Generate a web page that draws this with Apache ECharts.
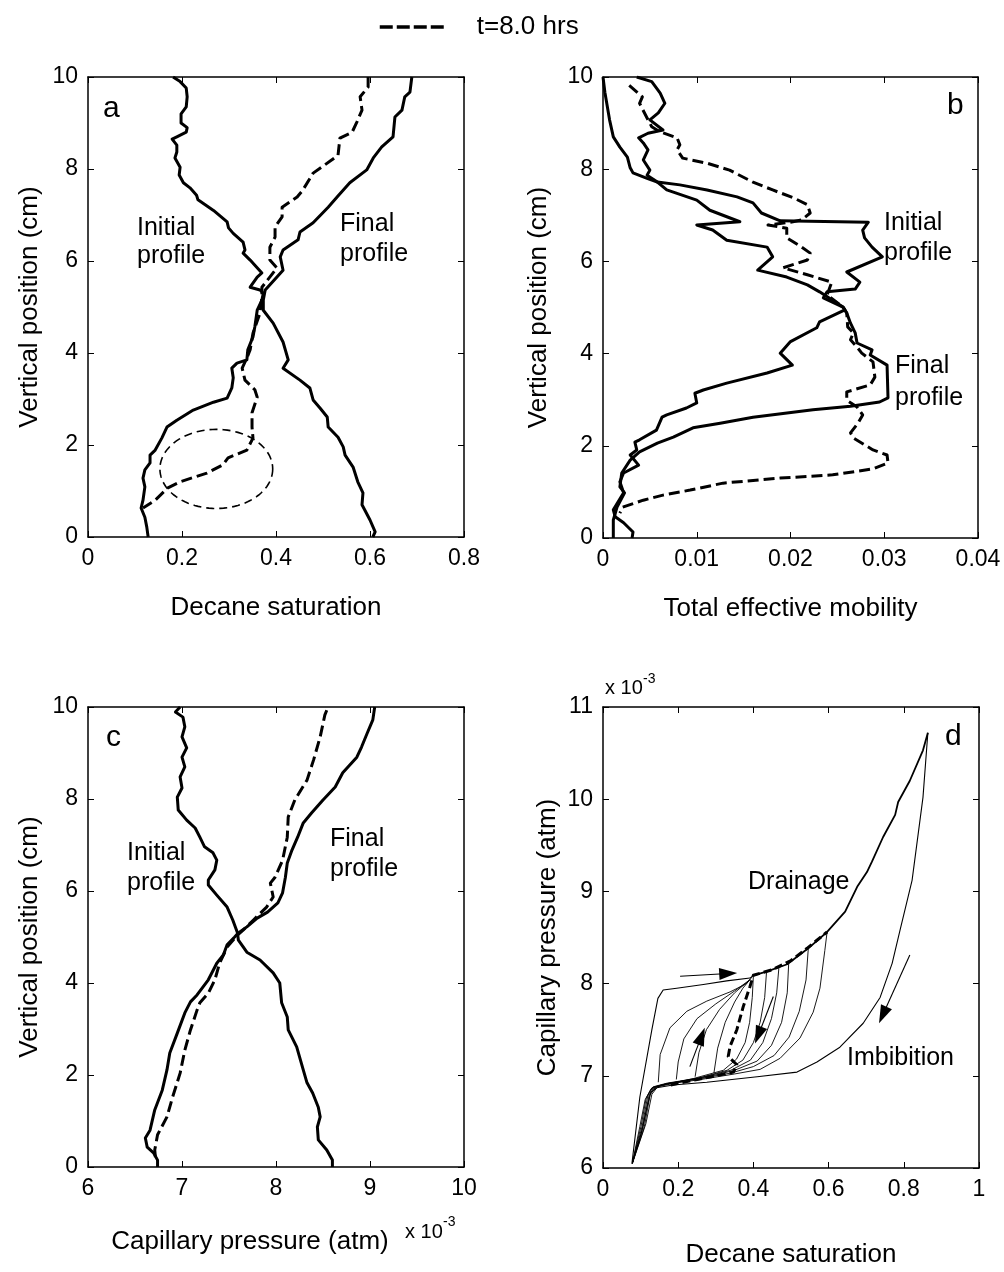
<!DOCTYPE html>
<html>
<head>
<meta charset="utf-8">
<title>Decane saturation, mobility and capillary pressure profiles</title>
<script src="https://cdn.jsdelivr.net/npm/echarts@6/dist/echarts.min.js"></script>
<style>
  html, body { margin: 0; padding: 0; background: #fff; }
  #chart { width: 1004px; height: 1272px; }
</style>
</head>
<body>
<div id="chart"></div>
<script>
// ---------- (a) decane saturation vs. vertical position ----------
const aInitial = [[0.181,10],[0.196,9.9],[0.209,9.76],[0.211,9.57],[0.209,9.35],[0.198,9.2],[0.198,9.0],[0.211,8.9],[0.209,8.8],[0.189,8.7],[0.179,8.65],[0.189,8.52],[0.189,8.37],[0.185,8.24],[0.196,8.04],[0.194,7.87],[0.203,7.7],[0.217,7.59],[0.231,7.43],[0.234,7.33],[0.267,7.1],[0.296,6.85],[0.299,6.72],[0.309,6.6],[0.330,6.41],[0.334,6.24],[0.330,6.17],[0.345,6.02],[0.370,5.74],[0.360,5.65],[0.345,5.43],[0.366,5.37],[0.373,5.3],[0.370,5.15],[0.360,4.93],[0.355,4.57],[0.351,4.35],[0.340,4.07],[0.338,3.85],[0.317,3.78],[0.306,3.67],[0.309,3.46],[0.306,3.24],[0.296,3.02],[0.267,2.93],[0.224,2.76],[0.189,2.54],[0.168,2.39],[0.157,2.15],[0.143,1.89],[0.132,1.78],[0.132,1.61],[0.121,1.46],[0.117,1.28],[0.121,1.09],[0.117,0.8],[0.113,0.63],[0.121,0.43],[0.125,0.22],[0.128,0]];
const aFinal = [[0.689,10],[0.685,9.67],[0.674,9.57],[0.668,9.28],[0.653,9.13],[0.649,8.7],[0.625,8.48],[0.607,8.24],[0.593,7.98],[0.557,7.7],[0.530,7.39],[0.511,7.17],[0.479,6.83],[0.451,6.63],[0.447,6.46],[0.415,6.24],[0.409,6.09],[0.415,5.8],[0.402,5.65],[0.377,5.37],[0.373,5.15],[0.373,4.93],[0.394,4.65],[0.415,4.24],[0.426,3.85],[0.415,3.67],[0.451,3.41],[0.472,3.24],[0.479,2.98],[0.494,2.8],[0.509,2.61],[0.511,2.39],[0.532,2.17],[0.543,1.96],[0.547,1.78],[0.564,1.52],[0.574,1.2],[0.585,0.96],[0.583,0.7],[0.600,0.37],[0.611,0.11],[0.606,0]];
const aAt8h = [[0.596,10],[0.596,9.78],[0.579,9.57],[0.583,9.28],[0.572,9.02],[0.562,8.8],[0.536,8.67],[0.532,8.3],[0.519,8.2],[0.479,7.91],[0.457,7.54],[0.445,7.39],[0.413,7.17],[0.413,6.96],[0.398,6.74],[0.398,6.52],[0.387,6.3],[0.387,6.02],[0.402,5.85],[0.370,5.43],[0.370,5.22],[0.366,4.87],[0.351,4.43],[0.345,4.07],[0.338,3.89],[0.328,3.67],[0.334,3.41],[0.355,3.2],[0.360,3.04],[0.349,2.7],[0.349,2.39],[0.351,2.15],[0.338,1.89],[0.298,1.72],[0.287,1.57],[0.253,1.39],[0.196,1.2],[0.170,1.07],[0.143,0.8],[0.117,0.63]];
// highlighted region: [centre saturation, centre position, half-width, half-height]
const aEllipse = [[0.273,1.48,0.120,0.86]];

// ---------- (b) total effective mobility vs. vertical position ----------
const bInitial = [[0.0000,10],[0.0002,9.67],[0.0007,9.07],[0.0011,8.7],[0.0018,8.48],[0.0026,8.26],[0.0029,8.03],[0.0032,7.92],[0.0047,7.8],[0.0058,7.72],[0.0082,7.66],[0.0111,7.55],[0.0143,7.40],[0.0160,7.27],[0.0169,7.05],[0.0189,6.88],[0.0283,6.85],[0.0277,6.68],[0.0279,6.51],[0.0287,6.31],[0.0298,6.1],[0.0260,5.77],[0.0274,5.55],[0.0269,5.4],[0.0239,5.34],[0.0235,5.21],[0.0256,5.01],[0.0260,4.88],[0.0264,4.66],[0.0269,4.45],[0.0271,4.23],[0.0287,4.08],[0.0285,3.97],[0.0303,3.75],[0.0304,3.04],[0.0295,2.95],[0.0264,2.86],[0.0224,2.78],[0.0160,2.62],[0.0125,2.49],[0.0096,2.39],[0.0075,2.19],[0.0058,2.06],[0.0039,1.87],[0.0029,1.69],[0.0020,1.41],[0.0018,1.11],[0.0023,0.98],[0.0015,0.67],[0.0011,0.39],[0.0011,0]];
const bFinal = [[0.0036,10],[0.0052,9.9],[0.0061,9.65],[0.0066,9.43],[0.0059,9.22],[0.0050,9.07],[0.0064,8.85],[0.0048,8.78],[0.0038,8.68],[0.0043,8.57],[0.0048,8.42],[0.0043,8.2],[0.0050,7.98],[0.0047,7.87],[0.0058,7.72],[0.0068,7.55],[0.0100,7.33],[0.0114,7.11],[0.0146,6.86],[0.0100,6.79],[0.0117,6.68],[0.0132,6.46],[0.0175,6.31],[0.0181,6.1],[0.0165,5.81],[0.0196,5.66],[0.0218,5.49],[0.0231,5.34],[0.0256,5.01],[0.0258,4.95],[0.0231,4.69],[0.0228,4.56],[0.0200,4.26],[0.0189,4.01],[0.0202,3.75],[0.0175,3.58],[0.0132,3.36],[0.0107,3.21],[0.0098,3.14],[0.0100,2.93],[0.0089,2.82],[0.0068,2.67],[0.0063,2.62],[0.0057,2.34],[0.0039,2.13],[0.0034,2.08],[0.0036,1.91],[0.0029,1.8],[0.0038,1.58],[0.0022,1.41],[0.0018,1.22],[0.0022,0.98],[0.0016,0.78],[0.0011,0.61],[0.0013,0.46],[0.0022,0.33],[0.0032,0.13],[0.0031,0]];
const bAt8h = [[0.0028,9.82],[0.0042,9.57],[0.0039,9.43],[0.0047,9.11],[0.0052,8.92],[0.0061,8.81],[0.0079,8.68],[0.0082,8.53],[0.0079,8.42],[0.0085,8.24],[0.0111,8.13],[0.0135,7.98],[0.0160,7.72],[0.0181,7.55],[0.0203,7.38],[0.0218,7.23],[0.0221,7.05],[0.0212,6.9],[0.0200,6.85],[0.0176,6.79],[0.0196,6.72],[0.0196,6.51],[0.0212,6.31],[0.0221,6.18],[0.0218,6.03],[0.0192,5.86],[0.0218,5.71],[0.0244,5.55],[0.0239,5.27],[0.0256,5.01],[0.0260,4.88],[0.0261,4.58],[0.0267,4.45],[0.0264,4.3],[0.0271,4.14],[0.0276,4.01],[0.0288,3.82],[0.0290,3.49],[0.0285,3.32],[0.0260,3.17],[0.0260,2.99],[0.0271,2.84],[0.0277,2.67],[0.0272,2.49],[0.0264,2.28],[0.0267,2.17],[0.0288,1.91],[0.0303,1.8],[0.0304,1.63],[0.0288,1.5],[0.0245,1.37],[0.0189,1.3],[0.0128,1.19],[0.0093,1.04],[0.0064,0.93],[0.0043,0.82],[0.0021,0.67],[0.0018,0.54]];

// ---------- (c) capillary pressure (x 10^-3 atm) vs. vertical position ----------
const cInitial = [[6.98,10],[6.93,9.89],[7.01,9.78],[7.03,9.57],[7.0,9.35],[7.05,9.11],[7.0,8.91],[7.03,8.7],[6.98,8.48],[7.0,8.24],[6.95,8.04],[6.96,7.76],[7.05,7.54],[7.14,7.37],[7.19,7.17],[7.24,6.96],[7.33,6.83],[7.37,6.67],[7.35,6.46],[7.28,6.24],[7.28,6.13],[7.37,5.91],[7.48,5.65],[7.54,5.37],[7.59,5.09],[7.6,4.93],[7.69,4.67],[7.83,4.5],[7.97,4.22],[8.04,4.0],[8.06,3.57],[8.12,3.26],[8.13,2.98],[8.22,2.61],[8.29,2.11],[8.33,1.83],[8.39,1.61],[8.45,1.3],[8.47,1.09],[8.44,0.87],[8.45,0.59],[8.54,0.37],[8.6,0.15],[8.6,0]];
const cFinal = [[9.05,10],[9.03,9.72],[8.97,9.43],[8.91,9.13],[8.86,8.91],[8.71,8.57],[8.63,8.26],[8.5,7.98],[8.38,7.7],[8.29,7.48],[8.23,7.17],[8.17,6.89],[8.12,6.61],[8.1,6.3],[8.07,5.96],[8.02,5.74],[7.91,5.54],[7.8,5.41],[7.69,5.22],[7.6,5.09],[7.56,5.0],[7.48,4.83],[7.44,4.61],[7.37,4.43],[7.28,4.07],[7.16,3.74],[7.09,3.59],[7.03,3.35],[6.95,2.91],[6.87,2.48],[6.84,2.11],[6.79,1.67],[6.71,1.24],[6.66,0.8],[6.61,0.63],[6.63,0.43],[6.7,0.3],[6.74,0.15],[6.74,0]];
const cAt8h = [[8.54,9.93],[8.52,9.83],[8.47,9.35],[8.4,8.85],[8.33,8.41],[8.2,7.98],[8.13,7.61],[8.12,7.17],[8.07,6.67],[7.99,6.3],[7.94,6.17],[7.97,5.87],[7.9,5.65],[7.76,5.37],[7.65,5.15],[7.59,5.04],[7.48,4.78],[7.4,4.43],[7.35,4.07],[7.28,3.78],[7.19,3.57],[7.16,3.41],[7.09,2.98],[7.03,2.54],[6.98,2.04],[6.9,1.52],[6.84,1.09],[6.74,0.7],[6.71,0.37],[6.72,0.15]];

// ---------- (d) capillary pressure (x 10^-3 atm) vs. decane saturation ----------
const dPrimary = [[0.077,6.05],[0.098,6.77],[0.130,7.50],[0.146,7.84],[0.160,7.93],[0.196,7.95],[0.267,7.99],[0.329,8.03],[0.391,8.06],[0.400,8.09]];
const dDrainage = [[0.400,8.09],[0.435,8.13],[0.490,8.21],[0.545,8.38],[0.596,8.56],[0.644,8.78],[0.676,9.05],[0.702,9.21],[0.715,9.32],[0.745,9.59],[0.777,9.83],[0.785,9.97],[0.816,10.20],[0.851,10.53],[0.864,10.72]];
const dImbibition = [[0.864,10.72],[0.851,10.02],[0.822,9.12],[0.790,8.58],[0.769,8.22],[0.737,7.85],[0.692,7.57],[0.630,7.31],[0.569,7.15],[0.516,7.04],[0.410,6.99],[0.276,6.93],[0.186,6.90],[0.143,6.87],[0.127,6.82],[0.117,6.66],[0.102,6.38],[0.078,6.05]];
const dScan1 = [[0.400,8.09],[0.397,7.85],[0.390,7.58],[0.378,7.36],[0.355,7.18],[0.320,7.06],[0.240,6.97],[0.160,6.90],[0.128,6.86],[0.112,6.74],[0.098,6.45],[0.078,6.05]];
const dScan2 = [[0.435,8.13],[0.430,7.85],[0.418,7.58],[0.400,7.36],[0.372,7.17],[0.330,7.06],[0.250,6.97],[0.165,6.91],[0.130,6.87],[0.115,6.76],[0.101,6.45],[0.078,6.05]];
const dScan3 = [[0.468,8.18],[0.462,7.90],[0.448,7.62],[0.425,7.36],[0.392,7.17],[0.340,7.06],[0.260,6.98],[0.170,6.92],[0.133,6.88],[0.119,6.78],[0.104,6.45],[0.078,6.05]];
const dScan4 = [[0.494,8.23],[0.490,7.90],[0.475,7.58],[0.448,7.33],[0.410,7.16],[0.350,7.06],[0.270,6.98],[0.175,6.92],[0.136,6.88],[0.122,6.78],[0.107,6.45],[0.078,6.05]];
const dScan5 = [[0.546,8.38],[0.540,8.04],[0.522,7.70],[0.495,7.42],[0.455,7.22],[0.400,7.10],[0.340,7.03],[0.260,6.97],[0.180,6.92],[0.140,6.88],[0.125,6.79],[0.110,6.45],[0.078,6.05]];
const dScan6 = [[0.596,8.56],[0.590,8.36],[0.577,7.95],[0.559,7.69],[0.524,7.41],[0.471,7.19],[0.418,7.07],[0.350,7.02],[0.260,6.96],[0.190,6.92],[0.145,6.88],[0.130,6.80],[0.114,6.48],[0.078,6.05]];
const dRise1 = [[0.147,6.93],[0.152,7.23],[0.178,7.52],[0.223,7.70],[0.276,7.81],[0.338,7.91],[0.382,8.00],[0.398,8.08]];
const dRise2 = [[0.195,6.96],[0.200,7.15],[0.215,7.40],[0.250,7.62],[0.300,7.78],[0.350,7.92],[0.390,8.04]];
const dRise3 = [[0.245,6.99],[0.255,7.25],[0.275,7.50],[0.310,7.72],[0.350,7.90],[0.390,8.04]];
const dRise4 = [[0.295,7.03],[0.305,7.30],[0.325,7.58],[0.350,7.80],[0.372,7.95],[0.392,8.05]];
const dAt8h = [[0.180,6.90],[0.250,6.96],[0.300,7.00],[0.347,7.04],[0.356,7.12],[0.333,7.21],[0.338,7.32],[0.356,7.50],[0.373,7.75],[0.391,7.97],[0.400,8.09],[0.450,8.15],[0.500,8.25],[0.545,8.39],[0.596,8.56]];
// direction arrows: [tail, head]
const dArrows = [
  [[0.205,8.08],[0.333,8.11]],
  [[0.231,7.10],[0.262,7.43]],
  [[0.453,7.86],[0.413,7.44]],
  [[0.816,8.31],[0.744,7.66]]
];

// ---------- axis ticks ----------
const ticksA = { x: [0, 0.8, 0.2], y: [0, 10, 2] };
const ticksB = { x: [0, 0.04, 0.01], y: [0, 10, 2] };
const ticksC = { x: [6, 10, 1], y: [0, 10, 2] };
const ticksD = { x: [0, 1, 0.2], y: [6, 11, 1] };

const LEGEND_NAME = 't=8.0 hrs';
const FONT = '"Liberation Sans", Arial, Helvetica, sans-serif';
const BLACK = '#000';

const grids = [
  { left: 88,  top: 77,  width: 376, height: 460 },
  { left: 603, top: 77,  width: 375, height: 461 },
  { left: 88,  top: 707, width: 376, height: 460 },
  { left: 603, top: 707, width: 376, height: 461 }
];

function axisBase(gridIndex, position, t, showLabels) {
  return {
    type: 'value', gridIndex, position,
    min: t[0], max: t[1], interval: t[2],
    axisLine: { show: true, onZero: false, lineStyle: { color: BLACK, width: 1.5 } },
    axisTick: { show: true, inside: true, length: 6, lineStyle: { color: BLACK, width: 1 } },
    axisLabel: { show: showLabels, color: BLACK, fontSize: 23, fontFamily: FONT, margin: 10 },
    splitLine: { show: false }
  };
}
function named(ax, name, gap, pad) {
  ax.name = name;
  ax.nameLocation = 'middle';
  ax.nameGap = gap;
  ax.nameTextStyle = { color: BLACK, fontSize: 26, fontFamily: FONT, padding: pad || 0 };
  return ax;
}

const xAxes = [], yAxes = [];
[ticksA, ticksB, ticksC, ticksD].forEach((t, i) => {
  xAxes.push(axisBase(i, 'bottom', t.x, true));
  xAxes.push(axisBase(i, 'top', t.x, false));
  yAxes.push(axisBase(i, 'left', t.y, true));
  yAxes.push(axisBase(i, 'right', t.y, false));
});
named(xAxes[0], 'Decane saturation', 58);
named(xAxes[2], 'Total effective mobility', 58);
named(xAxes[4], 'Capillary pressure (atm)', 62, [0, 52, 0, 0]);
named(xAxes[6], 'Decane saturation', 74);
named(yAxes[0], 'Vertical position (cm)', 45);
named(yAxes[2], 'Vertical position (cm)', 51);
named(yAxes[4], 'Vertical position (cm)', 45);
named(yAxes[6], 'Capillary pressure (atm)', 42);

function line(panel, data, opts) {
  opts = opts || {};
  return {
    type: 'line', name: opts.name, xAxisIndex: panel * 2, yAxisIndex: panel * 2,
    data, symbol: 'none', silent: true, animation: false, z: opts.z || 2,
    itemStyle: { color: BLACK },
    lineStyle: { color: BLACK, width: opts.width || 3, type: opts.dash || 'solid', cap: 'butt', join: 'round' }
  };
}
const DASH = [11, 5];

const series = [
  line(0, aInitial), line(0, aFinal), line(0, aAt8h, { name: LEGEND_NAME, dash: DASH }),
  {
    type: 'custom', xAxisIndex: 0, yAxisIndex: 0, silent: true, data: aEllipse,
    renderItem(params, api) {
      const c = api.coord([api.value(0), api.value(1)]);
      const s = api.size([api.value(2), api.value(3)]);
      const pts = [];
      for (let k = 0; k < 96; k++) {
        const t = 2 * Math.PI * k / 96;
        pts.push([c[0] + s[0] * Math.cos(t), c[1] + s[1] * Math.sin(t)]);
      }
      return { type: 'polygon', shape: { points: pts },
        style: { fill: 'none', stroke: BLACK, lineWidth: 1.6, lineDash: [8, 5] } };
    }
  },
  line(1, bInitial), line(1, bFinal), line(1, bAt8h, { name: LEGEND_NAME, dash: DASH }),
  line(2, cInitial), line(2, cFinal), line(2, cAt8h, { name: LEGEND_NAME, dash: DASH }),
  line(3, dPrimary, { width: 1.1 }),
  line(3, dDrainage, { width: 1.8 }),
  line(3, dImbibition, { width: 1.1 }),
  ...[dScan1, dScan2, dScan3, dScan4, dScan5, dScan6, dRise1, dRise2, dRise3, dRise4]
      .map(d => line(3, d, { width: 0.9 })),
  line(3, dAt8h, { name: LEGEND_NAME, dash: [8, 4], width: 3, z: 3 }),
  {
    type: 'line', xAxisIndex: 6, yAxisIndex: 6, data: [], silent: true,
    markLine: {
      silent: true, animation: false, symbolSize: [12, 18], precision: 4,
      label: { show: false },
      lineStyle: { color: BLACK, width: 1.1, type: 'solid' },
      data: dArrows.map(a => [
        { coord: a[0], symbol: 'none' },
        { coord: a[1], symbol: 'triangle' }
      ])
    }
  }
];

function label(text, x, y, size, align) {
  return { type: 'text', x, y, silent: true,
    style: { text, fill: BLACK, font: size + 'px ' + FONT,
      textAlign: align || 'left', align: align || 'left',
      textVerticalAlign: 'middle', verticalAlign: 'middle' } };
}

const graphics = [
  label('a', 103, 109, 30), label('b', 947, 106, 30),
  label('c', 106, 738, 30), label('d', 945, 737, 30),
  label('Initial', 137, 228, 25), label('profile', 137, 256, 25),
  label('Final', 340, 224, 25), label('profile', 340, 254, 25),
  label('Initial', 884, 223, 25), label('profile', 884, 253, 25),
  label('Final', 895, 366, 25), label('profile', 895, 398, 25),
  label('Initial', 127, 853, 25), label('profile', 127, 883, 25),
  label('Final', 330, 839, 25), label('profile', 330, 869, 25),
  label('Drainage', 748, 882, 25), label('Imbibition', 847, 1058, 25),
  // axis multipliers
  label('x 10', 405, 1232, 20), label('-3', 443, 1222, 14),
  label('x 10', 605, 688, 20), label('-3', 643, 679, 14)
];

const chart = echarts.init(document.getElementById('chart'), null, { renderer: 'canvas' });
chart.setOption({
  animation: false,
  backgroundColor: '#fff',
  textStyle: { fontFamily: FONT },
  legend: {
    data: [LEGEND_NAME], left: 373, top: 9, itemWidth: 66, itemHeight: 14,
    selectedMode: false,
    itemStyle: { opacity: 0, borderWidth: 0 },
    lineStyle: { color: BLACK, width: 3.5, type: [13, 4] },
    textStyle: { color: BLACK, fontSize: 26, fontFamily: FONT, padding: [0, 0, 0, 26] }
  },
  grid: grids.map(g => Object.assign({ containLabel: false }, g)),
  xAxis: xAxes,
  yAxis: yAxes,
  series,
  graphic: graphics
});
</script>
</body>
</html>
